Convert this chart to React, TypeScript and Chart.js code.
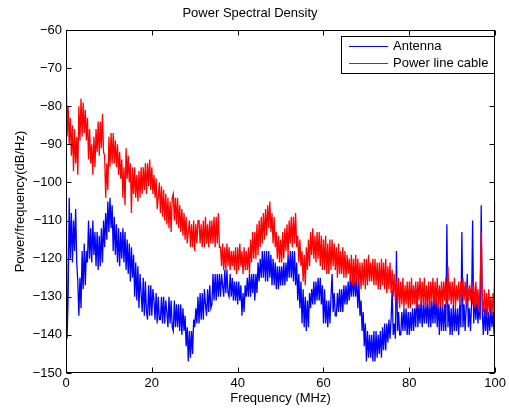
import React, { useEffect, useRef } from 'react';
import { Chart, registerables } from 'chart.js';

Chart.register(...registerables);

const TITLE = 'Power Spectral Density';
const X_LABEL = 'Frequency (MHz)';
const Y_LABEL = 'Power/frequency(dB/Hz)';
const SERIES_NAMES = ['Antenna', 'Power line cable'];
const X_TICKS = [0, 20, 40, 60, 80, 100];
const Y_TICKS = [-150, -140, -130, -120, -110, -100, -90, -80, -70, -60];
const FREQ_STEP_MHZ = 0.25;

// Antenna PSD (dB/Hz), read every 0.25 MHz from 0 to 100 MHz (one row per MHz)
const ANTENNA = [
  -86, -141, -130, -104,
  -120, -108, -121, -110,
  -118, -107, -121, -126,
  -135, -125, -133, -118,
  -128, -116, -127, -118,
  -121, -110, -120, -112,
  -121, -110, -119, -113,
  -122, -113, -123, -114,
  -122, -112, -121, -110,
  -117, -108, -115, -105,
  -113, -104, -112, -106,
  -118, -109, -119, -111,
  -121, -112, -122, -113,
  -120, -112, -121, -113,
  -123, -115, -124, -116,
  -126, -117, -125, -119,
  -130, -121, -131, -122,
  -133, -124, -129, -134,
  -125, -135, -126, -134,
  -136, -127, -135, -127,
  -135, -128, -131, -136,
  -129, -137, -130, -136,
  -136, -130, -137, -130,
  -137, -131, -134, -138,
  -130, -137, -131, -138,
  -139, -131, -138, -132,
  -138, -132, -139, -132,
  -140, -133, -139, -135,
  -143, -138, -147, -139,
  -146, -139, -145, -136,
  -138, -133, -137, -130,
  -137, -129, -136, -129,
  -136, -128, -132, -135,
  -128, -134, -127, -133,
  -132, -124, -131, -124,
  -131, -124, -130, -124,
  -130, -124, -127, -130,
  -123, -129, -123, -129,
  -130, -124, -130, -125,
  -131, -126, -131, -126,
  -132, -126, -131, -127,
  -135, -129, -134, -127,
  -130, -125, -130, -124,
  -130, -124, -129, -124,
  -131, -124, -129, -121,
  -126, -120, -125, -118,
  -125, -118, -126, -118,
  -126, -118, -125, -119,
  -127, -120, -127, -121,
  -128, -122, -128, -122,
  -127, -122, -127, -121,
  -127, -121, -126, -119,
  -125, -118, -125, -118,
  -126, -118, -127, -121,
  -131, -124, -133, -126,
  -137, -128, -138, -130,
  -139, -131, -138, -129,
  -133, -128, -132, -126,
  -132, -126, -131, -125,
  -131, -125, -132, -127,
  -137, -128, -137, -131,
  -138, -131, -137, -130,
  -124, -134, -129, -135,
  -135, -129, -134, -128,
  -134, -128, -134, -127,
  -132, -127, -132, -126,
  -131, -125, -130, -124,
  -130, -124, -130, -125,
  -133, -126, -135, -131,
  -139, -134, -143, -137,
  -147, -139, -146, -140,
  -146, -140, -147, -139,
  -147, -139, -146, -140,
  -145, -139, -146, -138,
  -144, -137, -144, -137,
  -142, -136, -141, -136,
  -128, -140, -137, -141,
  -118, -139, -134, -140,
  -140, -134, -139, -133,
  -139, -133, -140, -134,
  -140, -134, -139, -133,
  -139, -133, -138, -128,
  -138, -132, -137, -131,
  -138, -132, -137, -131,
  -137, -131, -138, -131,
  -138, -131, -137, -130,
  -137, -130, -138, -131,
  -140, -131, -139, -132,
  -139, -132, -139, -111,
  -138, -132, -140, -133,
  -140, -132, -139, -133,
  -139, -133, -140, -132,
  -138, -113, -138, -132,
  -139, -133, -124, -138,
  -133, -139, -132, -110,
  -137, -130, -136, -131,
  -137, -132, -136, -106,
  -134, -140, -133, -139,
  -133, -140, -134, -139,
  -133, -138, -134, -140,
  -105,
];

// Power line cable PSD (dB/Hz), read every 0.25 MHz from 0 to 100 MHz (one row per MHz)
const POWER_LINE = [
  -67, -88, -80, -90,
  -83, -93, -85, -97,
  -86, -95, -88, -98,
  -80, -89, -78, -88,
  -79, -87, -81, -89,
  -83, -94, -86, -95,
  -90, -98, -88, -96,
  -86, -92, -84, -93,
  -84, -91, -82, -92,
  -93, -104, -95, -102,
  -88, -96, -87, -95,
  -87, -95, -89, -96,
  -90, -98, -92, -99,
  -94, -104, -96, -106,
  -91, -99, -93, -100,
  -95, -108, -96, -103,
  -96, -104, -98, -105,
  -97, -104, -96, -103,
  -96, -102, -95, -103,
  -95, -101, -94, -102,
  -96, -103, -98, -104,
  -99, -107, -104, -100,
  -108, -101, -109, -102,
  -110, -103, -111, -104,
  -112, -105, -113, -104,
  -103, -110, -104, -111,
  -104, -112, -106, -113,
  -107, -114, -108, -115,
  -109, -116, -113, -110,
  -117, -111, -117, -110,
  -118, -111, -116, -110,
  -110, -116, -111, -117,
  -110, -117, -109, -116,
  -111, -117, -110, -116,
  -110, -116, -109, -117,
  -109, -116, -108, -117,
  -117, -122, -116, -123,
  -117, -123, -116, -122,
  -117, -123, -118, -122,
  -118, -123, -117, -124,
  -117, -123, -116, -122,
  -118, -124, -117, -123,
  -118, -123, -117, -124,
  -115, -121, -113, -120,
  -113, -120, -111, -119,
  -110, -117, -109, -116,
  -108, -115, -107, -114,
  -106, -112, -105, -113,
  -108, -116, -109, -117,
  -113, -120, -114, -121,
  -115, -121, -113, -120,
  -112, -118, -111, -119,
  -110, -116, -109, -117,
  -109, -116, -108, -117,
  -114, -121, -115, -122,
  -118, -126, -119, -127,
  -117, -123, -115, -122,
  -113, -119, -112, -120,
  -114, -121, -113, -120,
  -113, -122, -114, -123,
  -115, -123, -114, -124,
  -116, -124, -115, -123,
  -115, -122, -116, -123,
  -117, -125, -116, -124,
  -118, -124, -117, -125,
  -118, -125, -119, -124,
  -120, -126, -119, -127,
  -120, -127, -119, -126,
  -120, -127, -121, -128,
  -121, -127, -120, -128,
  -120, -127, -119, -126,
  -121, -126, -120, -127,
  -120, -127, -121, -128,
  -121, -128, -120, -127,
  -121, -128, -120, -129,
  -122, -128, -121, -129,
  -123, -130, -124, -131,
  -126, -132, -125, -133,
  -126, -132, -125, -133,
  -127, -132, -126, -133,
  -126, -133, -125, -132,
  -127, -132, -126, -133,
  -126, -131, -125, -132,
  -126, -132, -125, -133,
  -127, -132, -126, -133,
  -126, -131, -125, -132,
  -126, -132, -125, -133,
  -127, -132, -126, -133,
  -126, -131, -125, -132,
  -122, -131, -126, -132,
  -126, -132, -125, -133,
  -127, -131, -126, -132,
  -126, -130, -125, -131,
  -126, -132, -127, -131,
  -127, -131, -126, -132,
  -127, -133, -126, -132,
  -128, -134, -127, -113,
  -131, -134, -128, -135,
  -129, -135, -128, -134,
  -130, -135, -129, -134,
  -119,
];

const FONT_FAMILY = '"Liberation Sans", Arial, Helvetica, sans-serif';
const minusSign = (v: number) => String(v).replace('-', '\u2212');

const toPoints = (vals: number[]) => vals.map((y, i) => ({ x: i * FREQ_STEP_MHZ, y }));

const framePlugin = {
  id: 'matlabFrame',
  afterDatasetsDraw(chart: any) {
    const { ctx, chartArea: a, scales } = chart;
    const L = Math.round(a.left) + 0.5;
    const R = Math.round(a.right) - 0.5;
    const T = Math.round(a.top) + 0.5;
    const B = Math.round(a.bottom) - 0.5;
    const tickLen = 5;
    ctx.save();
    ctx.strokeStyle = '#000';
    ctx.lineWidth = 1;
    ctx.beginPath();
    X_TICKS.forEach((v) => {
      const px = Math.round(scales.x.getPixelForValue(v)) + 0.5;
      ctx.moveTo(px, B);
      ctx.lineTo(px, B - tickLen);
      ctx.moveTo(px, T);
      ctx.lineTo(px, T + tickLen);
    });
    Y_TICKS.forEach((v) => {
      const py = Math.round(scales.y.getPixelForValue(v)) + 0.5;
      ctx.moveTo(L, py);
      ctx.lineTo(L + tickLen, py);
      ctx.moveTo(R, py);
      ctx.lineTo(R - tickLen, py);
    });
    ctx.stroke();
    ctx.strokeRect(L, T, R - L, B - T);

    // legend box (MATLAB style, inside the axes at top right)
    const bx = 341.5, by = 36.5, bw = 153, bh = 37;
    ctx.fillStyle = '#fff';
    ctx.fillRect(bx, by, bw, bh);
    ctx.strokeRect(bx, by, bw, bh);
    const colors = ['#0000ff', '#ff0000'];
    const rows = [46.5, 63.5];
    ctx.font = `13px ${FONT_FAMILY}`;
    ctx.textBaseline = 'middle';
    ctx.textAlign = 'left';
    SERIES_NAMES.forEach((name, i) => {
      ctx.strokeStyle = colors[i];
      ctx.beginPath();
      ctx.moveTo(349, rows[i]);
      ctx.lineTo(388, rows[i]);
      ctx.stroke();
      ctx.fillStyle = '#000';
      ctx.fillText(name, 393, rows[i]);
    });
    ctx.restore();
  },
};

export default function App() {
  const canvasRef = useRef<HTMLCanvasElement | null>(null);

  useEffect(() => {
    const canvas = canvasRef.current;
    if (!canvas) return;
    const chart = new Chart(canvas, {
      type: 'line',
      data: {
        datasets: [
          {
            label: SERIES_NAMES[0],
            data: toPoints(ANTENNA),
            borderColor: '#0000ff',
            borderWidth: 1.3,
            pointRadius: 0,
            tension: 0,
            order: 1,
          },
          {
            label: SERIES_NAMES[1],
            data: toPoints(POWER_LINE),
            borderColor: '#ff0000',
            borderWidth: 1.3,
            pointRadius: 0,
            tension: 0,
            order: 0,
          },
        ],
      },
      options: {
        animation: false,
        responsive: false,
        devicePixelRatio: 1,
        layout: { padding: { left: 0, right: 9, top: 0, bottom: 0 }, autoPadding: false },
        plugins: {
          legend: { display: false },
          tooltip: { enabled: false },
          title: {
            display: true,
            text: TITLE,
            color: '#000',
            font: { family: FONT_FAMILY, size: 13, weight: 'normal' },
            padding: { top: 6, bottom: 8.4 },
          },
        },
        scales: {
          x: {
            type: 'linear',
            min: 0,
            max: 100,
            afterBuildTicks: (s: any) => {
              s.ticks = X_TICKS.map((value) => ({ value }));
            },
            afterFit: (s: any) => {
              s.height = 35;
            },
            grid: { display: false, drawTicks: false },
            border: { display: false },
            ticks: {
              color: '#000',
              padding: 3,
              maxRotation: 0,
              autoSkip: false,
              font: { family: FONT_FAMILY, size: 13 },
              callback: (v: any) => minusSign(Number(v)),
            },
            title: {
              display: true,
              text: X_LABEL,
              color: '#000',
              font: { family: FONT_FAMILY, size: 13 },
              padding: { top: 0, bottom: 2 },
            },
          },
          y: {
            type: 'linear',
            min: -150,
            max: -60,
            afterBuildTicks: (s: any) => {
              s.ticks = Y_TICKS.map((value) => ({ value }));
            },
            afterFit: (s: any) => {
              s.width = 66;
            },
            grid: { display: false, drawTicks: false },
            border: { display: false },
            ticks: {
              color: '#000',
              padding: 4,
              autoSkip: false,
              font: { family: FONT_FAMILY, size: 13 },
              callback: (v: any) => minusSign(Number(v)),
            },
            title: {
              display: true,
              text: Y_LABEL,
              color: '#000',
              font: { family: FONT_FAMILY, size: 13 },
              padding: { top: 13, bottom: 0 },
            },
          },
        },
      },
      plugins: [framePlugin],
    });
    return () => chart.destroy();
  }, []);

  return (
    <div style={{ position: 'fixed', left: 0, top: 0, width: 509, height: 408, background: '#fff' }}>
      <canvas ref={canvasRef} width={509} height={408} style={{ display: 'block', width: 509, height: 408 }} />
    </div>
  );
}
